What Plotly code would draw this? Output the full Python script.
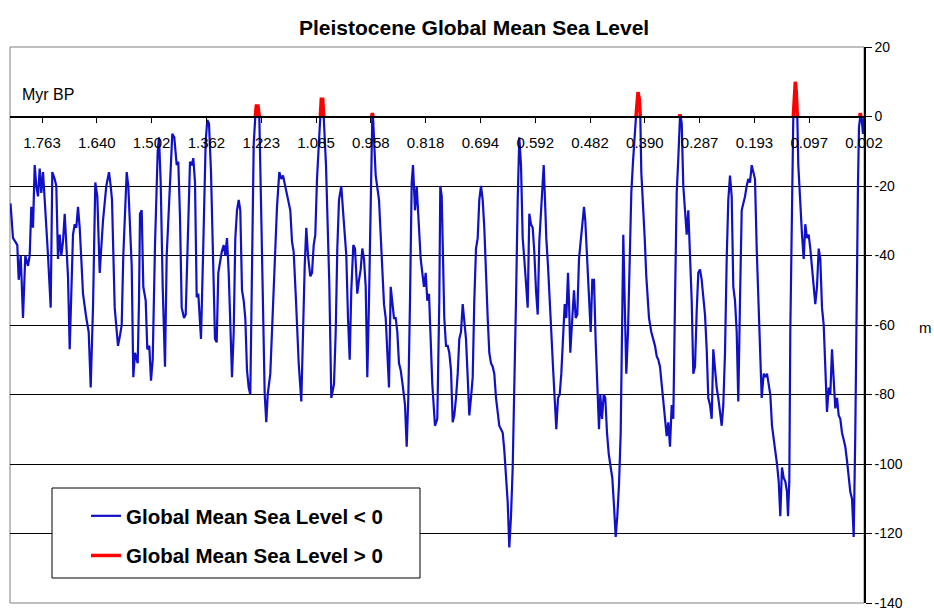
import plotly.graph_objects as go

# ---------------- data ----------------
# x-axis tick labels (Myr before present), evenly spaced along the record
tick_labels = ["1.763", "1.640", "1.502", "1.362", "1.223", "1.085", "0.958", "0.818",
               "0.694", "0.592", "0.482", "0.390", "0.287", "0.193", "0.097", "0.002"]
TICK_STEP = 54.8   # record positions between labelled ticks

# y-axis ticks (m)
y_ticks = [20, 0, -20, -40, -60, -80, -100, -120, -140]
y_tick_text = ["20", "0", "-20", "-40", "-60", "-80", "-100", "-120", "-140"]

# position along the record (same units as TICK_STEP; first label at 0)
pos = [
    -31.5, -29, -26.7, -24.7, -23.3, -21.3, -19, -16.7, -14, -12.3, -10.7, -9, -7.3, -5.7, -4, -2.3, -0.7,
    1, 2.7, 4.3, 6, 8.7, 10.3, 12.7, 14.3, 16, 17.7, 19.3, 21, 22.7, 24.3, 26, 27.7, 29.3, 31, 32.7, 34.3,
    36, 37.7, 39.3, 41, 44.3, 46.7, 48.7, 51, 53.3, 55.3, 57.7, 59.3, 61, 64.3, 67, 68.7, 70, 72.7, 76,
    78, 79.7, 81.3, 83, 84.7, 86.3, 88, 89.7, 91.3, 93, 95.7, 97, 98, 99.7, 101.3, 103.7, 105.3, 107.3,
    109, 110.7, 113, 115.7, 117, 118.7, 120.7, 123, 124.7, 128, 130.3, 132.3, 134.7, 136.3, 138, 139.7,
    142, 143.7, 146.3, 148, 149.7, 151.3, 153, 154.7, 156.3, 159, 161.3, 163.7, 165.3, 167, 169, 171.3,
    173, 174.7, 176.3, 179.7,
    181.7, 183.3, 185, 186.7, 188.3, 190, 191.7, 193.3, 195, 196.7, 198.3, 200, 201.7, 203.3, 205, 206.7,
    208.3, 210, 211.7, 213.3, 214.3, 216, 217.3, 219.3, 220.7, 222.7, 224.3, 225.7, 228.3, 230, 232.7,
    235, 237.3, 239.3, 241, 243.3, 245, 246.7, 248.3, 250, 251.7, 254, 256.7, 259.3, 261, 262.7, 264.3,
    266, 268.3, 270, 271.7, 273.3, 275, 276.7, 278.3, 279.3, 280.7, 281.7, 284, 286, 287.3, 289.3,
    292, 293.7, 295.3, 297, 299.3, 301, 302.7, 304.3, 306, 307.7, 309.3, 311.3, 313, 315.3, 317, 318.7,
    320.3, 322, 323.7, 325.3, 327, 328.7, 329.7, 330.3, 331, 332, 333.7, 337, 338.7, 342, 343.7, 345.3,
    347, 348.7, 350.3, 352, 353.7, 355.3, 357, 358.7, 361, 363, 364.7, 366.3, 368, 369.7, 371, 373,
    374.7, 376.3, 378.7, 380.3, 382, 383.7, 385.3, 387, 388.7, 390.3, 393, 395.3,
    397.3, 398.3, 399.7, 400.7, 402.3, 404, 405.7, 407.3, 409, 410.7, 412.3, 414, 415.7, 417.3, 419,
    420.7, 422.3, 424, 425.7, 427.3, 429, 430.7, 432.3, 434, 435.7, 437.3, 439, 440.7, 442.3, 444,
    445.7, 447.3, 449, 450.7, 452.3, 454, 455.7, 457.3, 459, 460.7, 462.3, 464, 465.7, 467.3, 469,
    470.7, 472.3, 474, 475.7, 477.3, 479, 480.7, 482.3, 484, 485.7, 487.3, 489, 490.7, 492.3, 494,
    495.7, 497.3, 500, 501.7,
    503, 504.3, 506, 507.7, 509.3, 511, 512.7, 514.3, 516, 517.7, 519.3, 521, 522.7, 524.3, 526, 527,
    528.3, 530.3, 532, 533.7, 535.3, 537, 538.7, 540.3, 542, 543.3, 545, 546.7, 548.7, 550.3, 552,
    553.7, 555.3, 557, 558.3, 560, 561.7, 563.3, 565, 566.7, 568.7, 570.3, 572, 573.7, 575.3, 577,
    578.7, 580.3, 581.3, 582.7, 584.3, 586, 587.7, 589.3, 591, 592.7, 594, 595, 596, 597.3, 598.3,
    599.3, 601, 602.7, 604.3, 607, 609.3,
    611.3, 613, 614.7, 616.3, 618, 619.7, 621.3, 623, 624.7, 626.3, 628, 629.7, 631.3, 633, 634.7,
    636.3, 637.3, 638, 638.7, 639.7, 641.3, 643, 644.7, 646.3, 648, 649.7, 651.3, 653, 654.7, 656.3,
    658, 659.7, 661.3, 663, 664.7, 666.3, 668, 669.7, 671.3, 673, 674.7, 676.3, 678, 679.7, 681.3,
    683, 684.7, 686.3, 688, 689.7, 691.3, 693, 694.7, 696.3, 698, 699.7, 701.3, 703, 704.7, 706.3,
    708, 709.7, 711.3, 713, 714.7, 716.3, 718, 719.7,
    721.7, 723.3, 725, 726.7, 728.3, 730, 731.7, 733.3, 735, 736.7, 738.3, 740, 741.7, 743.3, 745,
    746, 747.3, 748.3, 750, 751.3, 752.3, 753.3, 754.3, 755.3, 756.3, 757.3, 758.3, 760, 761.7, 763.3,
    765, 766.7, 768.3, 770, 771.7, 773.3, 775, 776.7, 778.3, 780, 781.7, 783.3, 785, 786.7, 788.3,
    790, 791.7, 793.3, 795, 796.7, 798.3, 800, 801.7, 803.3, 805, 806.7, 808.3, 810, 811.7, 813.3,
    814.3, 815, 816, 817, 817.7, 818.3, 819, 819.7, 821, 822,
]

# global mean sea level (m)
level = [
    -25, -35, -36, -37, -47, -40, -58, -40, -43, -40, -26, -32, -14, -20, -23, -15, -22,
    -16, -24, -34, -40, -55, -16, -18, -20, -41, -34, -40, -36, -28, -36, -46, -67, -53, -34, -31, -32,
    -26, -32, -41, -51, -58, -62, -78, -55, -19, -23, -45, -36, -30, -20, -16, -20, -24, -55, -66,
    -63, -60, -40, -27, -16, -20, -34, -43, -75, -68, -71, -53, -28, -27, -49, -53, -67, -66,
    -76, -70, -37, -10, -6, -19, -49, -72, -40, -19, -5, -6, -14, -13, -29, -55,
    -58, -57, -29, -13, -14, -12, -19, -52, -51, -64, -37, -7, -1, -2, -16, -43,
    -64, -65, -45, -39,
    -37, -40, -35, -45, -62, -75, -62, -35, -27, -24, -27, -50, -53, -58, -73, -78,
    -80, -45, -8, 0, 3, 3, 0, -29, -53, -80, -88, -80, -74, -62, -43,
    -26, -16, -18, -17, -20, -22, -24, -27, -36, -39, -53, -71, -82, -61, -43, -32,
    -40, -46, -45, -37, -34, -18, -7, 0, 5, 5, 0, -14, -34, -48, -81,
    -77, -62, -38, -24, -20, -27, -34, -40, -58, -70, -50, -37, -38, -51, -47, -44,
    -38, -41, -49, -75, -53, -21, 0, 1, 0, -5, -17, -24, -35, -54, -58, -66,
    -78, -49, -53, -58, -58, -62, -71, -73, -78, -83, -95, -81, -53, -19, -14, -27,
    -20, -29, -41, -45, -49, -45, -53, -51, -67, -77, -89, -87,
    -53, -20, -23, -35, -58, -66, -66, -68, -73, -88, -86, -81, -74, -64, -62,
    -54, -58, -64, -75, -86, -81, -75, -53, -38, -35, -24, -20, -24, -32, -48,
    -58, -68, -71, -72, -74, -81, -86, -89, -90, -91, -96, -104, -111, -124, -115,
    -101, -81, -53, -24, -6, -14, -35, -41, -48, -55, -28, -31, -32, -39, -50,
    -57, -36, -24, -14,
    -24, -35, -43, -55, -62, -72, -81, -90, -81, -80, -74, -62, -54, -58, -45, -53,
    -68, -58, -50, -58, -57, -41, -36, -31, -26, -30, -40, -47, -62, -47, -47,
    -65, -80, -90, -80, -87, -80, -81, -91, -97, -101, -104, -112, -121, -115, -106,
    -91, -62, -34, -53, -74, -62, -43, -22, -13, -5, 0, 6, 7, 5, 0,
    -16, -24, -35, -46, -58, -62,
    -64, -66, -69, -70, -72, -77, -81, -85, -92, -88, -95, -83, -87, -53, -22,
    -12, 0, 0.5, 0, -2, -20, -27, -34, -27, -40, -53, -74, -72, -56, -45,
    -44, -47, -52, -57, -67, -81, -83, -87, -67, -74, -78, -81, -85, -89, -83,
    -68, -41, -24, -17, -23, -49, -53, -62, -82, -53, -27, -25, -23, -20, -18,
    -19, -14, -16, -18, -38, -53, -62, -81,
    -74, -75, -74, -78, -80, -89, -93, -95, -100, -105, -115, -101, -104, -105, -108,
    -115, -105, -62, -24, 0, 8, 10, 7, 0, -14, -20, -27, -34, -41, -31,
    -35, -34, -38, -43, -49, -54, -49, -38, -41, -55, -60, -74, -85, -78, -80,
    -67, -75, -84, -81, -86, -87, -91, -93, -95, -99, -105, -108, -110, -121, -91,
    -62, -34, -19, -3, 0, 1, 0, -1, -5, 0,
]

# the two series of the chart: below and above present-day sea level
below = [min(v, 0) for v in level]
above = [v if v >= 0 else None for v in level]

FONT = "Arial, 'Liberation Sans', sans-serif"
W, H = 934, 610
# plot area in window pixels: x 10..864, y 47..603
PL, PR, PT, PB = 10, 864, 47, 603
ML, MT, MR, MB = PL, PT, W - PR, H - PB
PW, PH = PR - PL, PB - PT
y_range = [-140, 20]


def px_x(p):
    return (p - PL) / PW


def px_y(p):
    return (PB - p) / PH


fig = go.Figure()
fig.add_trace(go.Scatter(x=pos, y=below, mode="lines", name="Global Mean Sea Level < 0",
                         line=dict(color="#1010C8", width=2.2), legendgroup="a"))
fig.add_trace(go.Scatter(x=pos, y=above, mode="lines", name="Global Mean Sea Level > 0",
                         line=dict(color="#FF0000", width=3.5), legendgroup="b",
                         connectgaps=False))

fig.update_layout(
    width=W, height=H,
    margin=dict(l=ML, r=MR, t=MT, b=MB, autoexpand=False),
    paper_bgcolor="white", plot_bgcolor="white",
    font=dict(family=FONT, color="black"),
    showlegend=True,
    legend=dict(x=px_x(86), y=px_y(496), xanchor="left", yanchor="top",
                bgcolor="rgba(0,0,0,0)", borderwidth=0,
                font=dict(size=20.5, family=FONT, color="black", weight="bold"),
                traceorder="grouped", tracegroupgap=10),
    xaxis=dict(range=[-32, 15 * TICK_STEP],
               tickmode="array",
               tickvals=[k * TICK_STEP for k in range(len(tick_labels))],
               ticktext=tick_labels,
               ticks="outside", ticklen=5, tickcolor="black", tickwidth=1,
               showline=True, linecolor="black", linewidth=2,
               showgrid=False, zeroline=False,
               anchor="free", position=(0 - y_range[0]) / (y_range[1] - y_range[0]),
               tickfont=dict(size=15, family=FONT, color="black"),
               ticklabelstandoff=7),
    yaxis=dict(range=y_range, side="right", tickmode="array",
               tickvals=y_ticks, ticktext=y_tick_text,
               ticks="outside", ticklen=6, tickcolor="black",
               showline=True, linecolor="black", linewidth=1.5,
               showgrid=True, gridcolor="black", gridwidth=1,
               zeroline=False, ticklabeloverflow="allow",
               tickfont=dict(size=14, family=FONT, color="black")),
    shapes=[
        dict(type="rect", xref="paper", yref="paper", x0=0, x1=1, y0=0, y1=1,
             line=dict(color="#808080", width=1), layer="below"),
        dict(type="rect", xref="paper", yref="paper",
             x0=px_x(52), x1=px_x(420), y0=px_y(578), y1=px_y(488),
             line=dict(color="black", width=1), fillcolor="white", layer="above"),
    ],
    annotations=[
        dict(text="<b>Pleistocene Global Mean Sea Level</b>", xref="paper", yref="paper",
             x=px_x(474), y=px_y(28), xanchor="center", yanchor="middle", showarrow=False,
             font=dict(size=21, family=FONT, color="black")),
        dict(text="Myr BP", xref="paper", yref="paper", x=px_x(20), y=px_y(94),
             xanchor="left", yanchor="middle", showarrow=False,
             font=dict(size=16, family=FONT, color="black")),
        dict(text="m", xref="paper", yref="paper", x=px_x(925), y=px_y(327),
             xanchor="center", yanchor="middle", showarrow=False,
             font=dict(size=15, family=FONT, color="black")),
    ],
)

# the page's default 8px body margin would push the 934x610 figure out of the window
fig.write_html("out.html", config={"displayModeBar": False},
               post_script="document.body.style.margin='0';document.body.style.overflow='hidden';")
